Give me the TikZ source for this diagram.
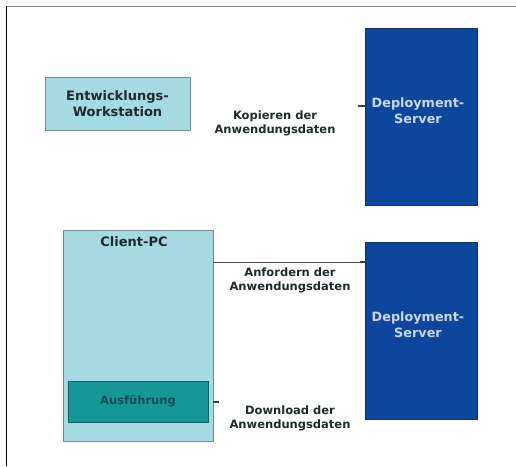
\documentclass[tikz,border=0pt]{standalone}
\usepackage{fontspec}
\setmainfont{DejaVu Sans}
\definecolor{wsfill}{HTML}{A6DAE2}
\definecolor{wsedge}{HTML}{6E8E94}
\definecolor{runfill}{HTML}{169696}
\definecolor{runedge}{HTML}{0F5F66}
\definecolor{srvfill}{HTML}{0E469E}
\definecolor{srvtext}{HTML}{C8D8F2}
\definecolor{labeltext}{HTML}{1E2A2C}
\begin{document}
\begin{tikzpicture}[x=1pt, y=-1pt,
    box/.style={draw=wsedge, line width=0.8pt, fill=wsfill, inner sep=0pt,
      align=center, text=labeltext, font=\bfseries\fontsize{13}{16}\selectfont},
    server/.style={draw=srvfill!70!black, line width=0.8pt, fill=srvfill,
      minimum width=112pt, minimum height=177pt, inner sep=0pt},
    srvname/.style={align=center, text=srvtext, font=\bfseries\fontsize{12.8}{16}\selectfont},
    msg/.style={align=center, text=labeltext, font=\bfseries\fontsize{11.5}{14}\selectfont},
    conn/.style={draw=black!70, line width=0.8pt},
    stub/.style={draw=black!75, line width=1.6pt}]
    \useasboundingbox (0,0) rectangle (516,466);

    % frame
    \draw[gray, line width=1pt] (6,6) -- (516,6);
    \draw[black, line width=1pt] (6,6) -- (6,466);

    % workstation and servers
    \node[box, minimum width=145pt, minimum height=53pt] (dev) at (117.5,104) {Entwicklungs-\\Workstation};
    \node[server] (srvA) at (421,117) {};
    \node[srvname] (srvAname) at (418,111) {Deployment-\\Server};
    \node[server] (srvB) at (421,331) {};
    \node[srvname] (srvBname) at (418,325) {Deployment-\\Server};

    % client
    \node[box, minimum width=150pt, minimum height=211pt] (client) at (138,335.5) {};
    \node[text=labeltext, font=\bfseries\fontsize{13}{16}\selectfont] (clientname) at (134,242) {Client-PC};
    \node[box, fill=runfill, draw=runedge, text=runedge!80!black,
      minimum width=140pt, minimum height=41pt,
      font=\bfseries\fontsize{11.5}{14}\selectfont] (run) at (138,401.5) {Ausführung};

    % messages
    \node[msg] (copy) at (275,123) {Kopieren der\\Anwendungsdaten};
    \node[msg] (request) at (290,280) {Anfordern der\\Anwendungsdaten};
    \node[msg] (download) at (290,418.5) {Download der\\Anwendungsdaten};

    \coordinate (copyend) at (358,106);
    \coordinate (reqrow) at (0,262);
    \coordinate (dlend) at (219,402);
    \draw[stub] (copyend) -- (srvA.west |- copyend);
    \draw[conn] (client.east |- reqrow) -- (srvB.west |- reqrow);
    \draw[stub] (srvB.west |- reqrow) ++(-5,0) -- (srvB.west |- reqrow);
    \draw[stub] (client.east |- dlend) -- (dlend);
\end{tikzpicture}
\end{document}
